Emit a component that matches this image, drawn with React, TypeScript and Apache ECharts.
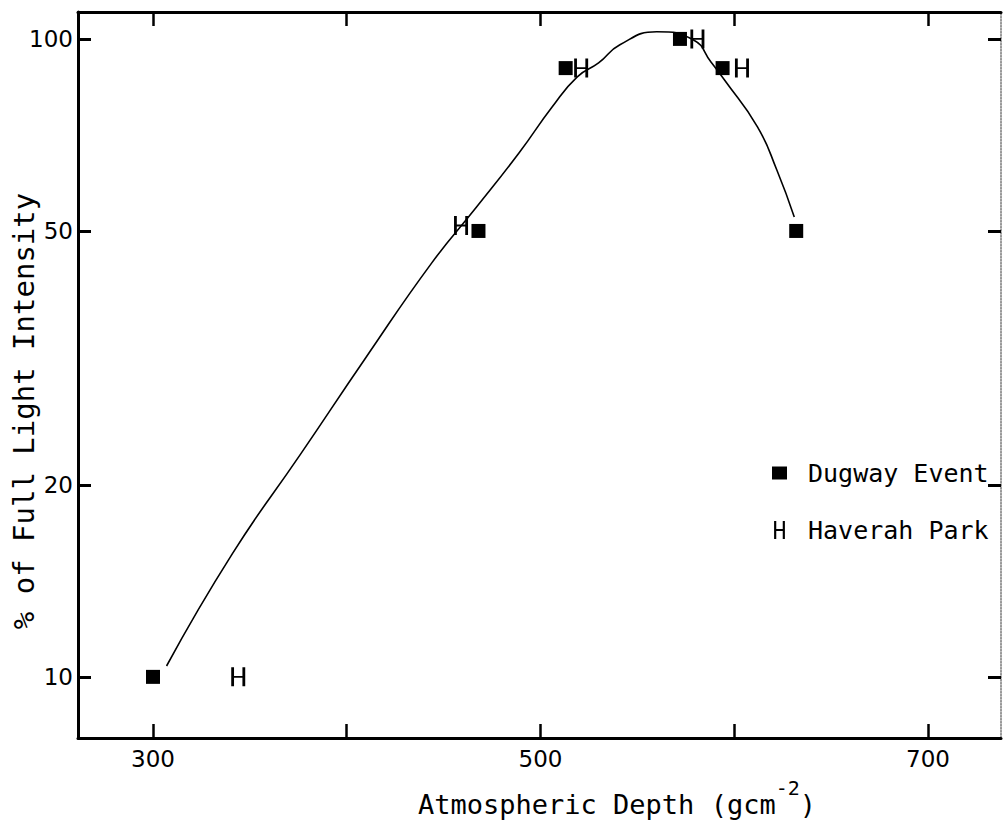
import React, { useEffect, useRef } from "react";
import * as echarts from "echarts";

// Dugway Event (filled squares)
const dugwayDepth = [300, 468, 513, 572, 594, 632];
const dugwayIntensity = [10, 50, 90, 100, 90, 50];
// Haverah Park ("H" markers)
const haverahDepth = [344, 459, 521, 581, 604];
const haverahIntensity = [10, 51, 90, 100, 90];
// Hand-drawn curve, points
const curveDepth = [307, 341, 376, 410, 444, 467, 489, 506, 519, 530, 541, 560, 579, 588, 595, 612, 622, 631];
const curveIntensity = [10.4, 15.6, 22.3, 31.7, 44.6, 54.5, 66.3, 78.2, 87.2, 91.7, 97.9, 102.6, 99.6, 92.0, 86.2, 72.8, 62.3, 52.6];

const xTicks = [300, 400, 500, 600, 700];
const xLabels = [300, 500, 700];
const yTicks = [10, 20, 50, 100];
const xRange = [261.3, 737.7];
const yRange = [8.02, 110.2];

const H_SYMBOL = "path://M0,0H2.4V9H9.6V0H12V20H9.6V11H2.4V20H0Z";
const SQUARE_ICON = "path://M0,0M0,2.5H15V15.5H0ZM15,18";
const MONO = "DejaVu Sans Mono";

export default function App() {
  const ref = useRef<HTMLDivElement>(null);
  useEffect(() => {
    document.body.style.margin = "0";
    const chart = echarts.init(ref.current!, null, { renderer: "svg" });
    const axisLine = { show: true, lineStyle: { color: "#000", width: 3 } };
    const option: any = {
      animation: false,
      backgroundColor: "#fff",
      grid: { left: 78, right: 2, top: 12, bottom: 87 },
      legend: {
        orient: "vertical",
        left: 767,
        top: 455,
        itemWidth: 15,
        itemHeight: 18,
        itemGap: 31,
        textStyle: { fontFamily: MONO, fontSize: 25, color: "#000", lineHeight: 26, padding: [0, 0, 0, 16] },
        itemStyle: { opacity: 1 },
        data: [
          { name: "Dugway Event", icon: SQUARE_ICON },
          { name: "Haverah Park", icon: H_SYMBOL },
        ],
      },
      xAxis: [
        {
          type: "value",
          position: "bottom",
          min: xRange[0],
          max: xRange[1],
          axisLine,
          axisTick: { show: true, inside: true, length: 14, lineStyle: { color: "#000", width: 2.5 }, customValues: xTicks },
          axisLabel: { customValues: xLabels, color: "#000", fontFamily: "DejaVu Sans", fontSize: 23, margin: 9 },
          splitLine: { show: false },
        },
        {
          type: "value",
          position: "top",
          min: xRange[0],
          max: xRange[1],
          axisLine,
          axisTick: { show: true, inside: true, length: 14, lineStyle: { color: "#000", width: 2.5 }, customValues: xTicks },
          axisLabel: { show: false },
          splitLine: { show: false },
        },
      ],
      yAxis: [
        {
          type: "log",
          logBase: 10,
          position: "left",
          min: yRange[0],
          max: yRange[1],
          axisLine,
          axisTick: { show: true, inside: true, length: 13, lineStyle: { color: "#000", width: 3 }, customValues: yTicks },
          axisLabel: { customValues: yTicks, color: "#000", fontFamily: "DejaVu Sans", fontSize: 23, margin: 5 },
          splitLine: { show: false },
          minorTick: { show: false },
        },
        {
          type: "log",
          logBase: 10,
          position: "right",
          min: yRange[0],
          max: yRange[1],
          axisLine: { show: true, lineStyle: { color: "#777", width: 1.5, type: "dotted" } },
          axisTick: { show: true, inside: true, length: 13, lineStyle: { color: "#000", width: 3 }, customValues: yTicks },
          axisLabel: { show: false },
          splitLine: { show: false },
        },
      ],
      series: [
        {
          type: "line",
          name: "curve",
          data: curveDepth.map((d, i) => [d, curveIntensity[i]]),
          smooth: 0.5,
          showSymbol: false,
          symbol: "none",
          lineStyle: { color: "#000", width: 1.6 },
          z: 1,
          silent: true,
        },
        {
          type: "scatter",
          name: "Dugway Event",
          data: dugwayDepth.map((d, i) => [d, dugwayIntensity[i]]),
          symbol: "rect",
          symbolSize: 14,
          itemStyle: { color: "#000", opacity: 1 },
          z: 3,
        },
        {
          type: "scatter",
          name: "Haverah Park",
          data: haverahDepth.map((d, i) => [d, haverahIntensity[i]]),
          symbol: H_SYMBOL,
          symbolSize: [14, 19],
          itemStyle: { color: "#000", opacity: 1 },
          z: 3,
        },
      ],
      graphic: [
        {
          type: "text",
          x: 24,
          y: 411,
          rotation: Math.PI / 2,
          style: {
            text: "% of Full Light Intensity",
            fontFamily: MONO,
            fontSize: 29,
            fill: "#000",
            align: "center",
            verticalAlign: "middle",
          },
        },
        {
          type: "text",
          x: 617,
          y: 798,
          style: {
            text: "{n|Atmospheric Depth (gcm}{sup|-2}{n|)}",
            fill: "#000",
            align: "center",
            verticalAlign: "middle",
            rich: {
              n: { fontFamily: MONO, fontSize: 27, lineHeight: 40, fill: "#000", verticalAlign: "bottom" },
              sup: { fontFamily: MONO, fontSize: 20, lineHeight: 20, fill: "#000", verticalAlign: "top" },
            },
          },
        },
      ],
    };
    chart.setOption(option);
    return () => chart.dispose();
  }, []);
  return <div ref={ref} style={{ width: 1003, height: 825 }} />;
}
